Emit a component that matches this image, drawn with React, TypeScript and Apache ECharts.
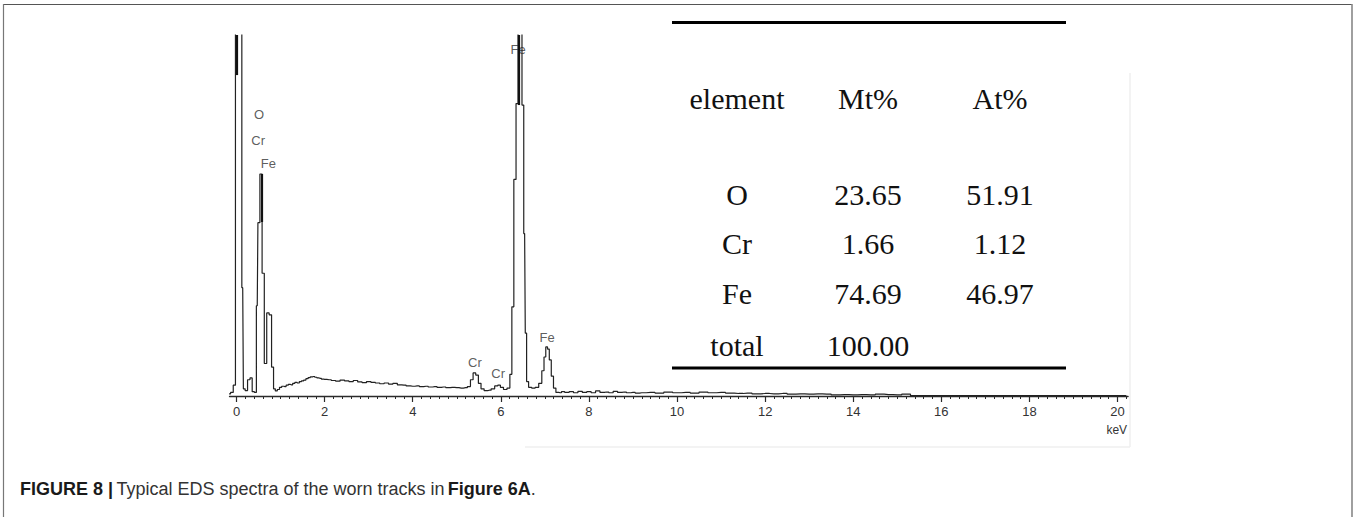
import React, { useEffect, useRef } from "react";
import * as echarts from "echarts";

// ---- Spectrum (keV, counts; arbitrary count scale, top of plot = 1000) ----
const spectrumKeV: number[] = [
  -0.17, -0.1, -0.05, 0.0, 0.06, 0.1, 0.14, 0.17, 0.22, 0.28, 0.33, 0.38, 0.43, 0.47, 0.5, 0.56, 0.6, 0.66, 0.71, 0.77,
  0.82, 0.86, 0.9, 0.95, 1.0, 1.05, 1.1, 1.15, 1.2, 1.25, 1.3, 1.35, 1.4, 1.45, 1.5, 1.55, 1.6, 1.65, 1.7, 1.75,
  1.8, 1.85, 1.9, 1.95, 2.0, 2.1, 2.2, 2.3, 2.4, 2.5, 2.6, 2.7, 2.8, 2.9, 3.0, 3.1, 3.2, 3.3, 3.4, 3.5,
  3.6, 3.7, 3.8, 3.9, 4.0, 4.1, 4.2, 4.3, 4.4, 4.5, 4.6, 4.7, 4.8, 4.9, 5.0, 5.1, 5.2, 5.28, 5.34, 5.4,
  5.46, 5.52, 5.58, 5.66, 5.74, 5.82, 5.9, 5.96, 6.02, 6.1, 6.18, 6.23, 6.27, 6.32, 6.37, 6.41, 6.46, 6.5, 6.54, 6.57,
  6.6, 6.66, 6.74, 6.82, 6.9, 6.96, 7.0, 7.04, 7.08, 7.12, 7.17, 7.22, 7.28, 7.35, 7.4, 7.5, 7.6, 7.7, 7.8, 7.9,
  8.0, 8.1, 8.2, 8.3, 8.4, 8.5, 8.6, 8.7, 8.8, 8.9, 9.0, 9.1, 9.2, 9.4, 9.6, 9.8, 10.0, 10.2, 10.4, 10.6,
  10.8, 11.0, 11.2, 11.4, 11.6, 11.8, 12.0, 12.2, 12.4, 12.6, 12.8, 13.0, 13.2, 13.4, 13.6, 13.8, 14.0, 14.2, 14.4, 14.6,
  14.8, 15.0, 15.2, 15.4, 17.0, 20.2,
];
const spectrumCounts: number[] = [
  6, 10, 30, 1600, 1600, 1600, 300, 20, 15, 45, 50, 12, 10, 250, 480, 615, 340, 90, 230, 225,
  80, 20, 14, 18, 24, 27, 26, 30, 32, 31, 35, 38, 36, 40, 42, 44, 48, 51, 53, 54,
  52, 50, 49, 47, 46, 45, 43, 41, 44, 42, 40, 43, 39, 37, 40, 38, 36, 34, 36, 33,
  35, 31, 30, 28, 27, 28, 26, 27, 25, 26, 24, 25, 23, 24, 23, 22, 23, 26, 45, 64,
  58, 35, 20, 15, 16, 20, 28, 30, 24, 18, 22, 60, 247, 600, 810, 1600, 1600, 806, 450, 174,
  40, 24, 22, 24, 35, 70, 108, 136, 130, 100, 55, 22, 10, 9, 12, 10, 12, 9, 13, 10,
  12, 9, 14, 10, 11, 9, 13, 10, 11, 9, 10, 8, 9, 10, 8, 11, 9, 10, 8, 11,
  9, 10, 8, 7, 8, 6, 7, 6, 7, 5, 6, 5, 6, 5, 3, 4, 3, 4, 3, 5,
  4, 3, 5, 1, 1, 1,
];

// Peak identification labels
const peakLabels: string[] = ["O", "Cr", "Fe", "Fe", "Cr", "Cr", "Fe"];
const peakLabelKeV: number[] = [0.51, 0.49, 0.72, 6.39, 5.41, 5.94, 7.05];
const peakLabelY: number[] = [781, 709, 645, 961, 94, 61, 163];

// Element marker lines (keV, from count, to count)
const markerKeV: number[] = [0.0, 0.57, 6.4];
const markerFrom: number[] = [1000, 615, 1000];
const markerTo: number[] = [889, 482, 806];

// Axis ticks
const majorTicks: number[] = [0, 2, 4, 6, 8, 10, 12, 14, 16, 18, 20];
const tickLabels: string[] = ["0", "2", "4", "6", "8", "10", "12", "14", "16", "18", "20"];

// Table
const tableHeader: string[] = ["element", "Mt%", "At%"];
const tableElements: string[] = ["O", "Cr", "Fe", "total"];
const tableMt: string[] = ["23.65", "1.66", "74.69", "100.00"];
const tableAt: string[] = ["51.91", "1.12", "46.97", ""];

const W = 1354;
const H = 517;

export default function App() {
  const ref = useRef<HTMLDivElement | null>(null);

  useEffect(() => {
    document.body.style.margin = "0";
    if (!ref.current) return;
    const chart = echarts.init(ref.current, undefined, { renderer: "svg", width: W, height: H });

    const minorTicks: number[] = [];
    for (let i = 0; i <= 101; i++) minorTicks.push(Math.round(i * 0.2 * 10) / 10);

    const data = spectrumKeV.map((k, i) => [k, spectrumCounts[i]]);
    const labelData = peakLabels.map((n, i) => ({ name: n, value: [peakLabelKeV[i], peakLabelY[i]] }));
    const markLines = markerKeV.map((k, i) => [
      { coord: [k, markerFrom[i]] },
      { coord: [k, markerTo[i]] },
    ]);

    const colX = [737, 868, 1000];
    const rowY = [194, 243, 293, 345];
    const serif = "'Liberation Serif', 'Times New Roman', serif";
    const tableTexts: any[] = [];
    tableHeader.forEach((t, c) =>
      tableTexts.push({
        type: "text",
        x: colX[c],
        y: 98,
        style: { text: t, fontFamily: serif, fontSize: 30, fill: "#111", align: "center", verticalAlign: "middle" },
      })
    );
    tableElements.forEach((el, r) => {
      [el, tableMt[r], tableAt[r]].forEach((t, c) => {
        if (!t) return;
        tableTexts.push({
          type: "text",
          x: colX[c],
          y: rowY[r],
          style: { text: t, fontFamily: serif, fontSize: 30, fill: "#111", align: "center", verticalAlign: "middle" },
        });
      });
    });

    const sans = "'Liberation Sans', Arial, sans-serif";

    chart.setOption({
      animation: false,
      backgroundColor: "#ffffff",
      grid: { left: 229.5, right: 225.9, top: 35, bottom: 121, containLabel: false },
      xAxis: [
        {
          type: "value",
          min: -0.16,
          max: 20.24,
          position: "bottom",
          axisLine: { show: true, onZero: false, lineStyle: { color: "#2a2a2a", width: 1.3 } },
          axisTick: { show: true, customValues: majorTicks, length: 6, lineStyle: { color: "#2a2a2a", width: 1.2 } },
          axisLabel: {
            show: true,
            customValues: majorTicks,
            formatter: (v: number) => tickLabels[majorTicks.indexOf(Math.round(v))] ?? "",
            margin: 9,
            fontSize: 13,
            color: "#333",
            fontFamily: sans,
          },
          splitLine: { show: false },
          name: "keV",
          nameLocation: "end",
          nameGap: -1,
          nameTextStyle: { fontSize: 12, color: "#333", fontFamily: sans, align: "right", verticalAlign: "top", padding: [28, 0, 0, 0] },
        },
        {
          type: "value",
          min: -0.16,
          max: 20.24,
          position: "bottom",
          offset: 0,
          axisLine: { show: false, onZero: false },
          axisTick: { show: true, customValues: minorTicks, length: 3, lineStyle: { color: "#2a2a2a", width: 1 } },
          axisLabel: { show: false },
          splitLine: { show: false },
        },
      ],
      yAxis: {
        type: "value",
        min: 0,
        max: 1000,
        show: false,
        splitLine: { show: false },
      },
      series: [
        {
          type: "line",
          name: "spectrum",
          data,
          step: "middle",
          symbol: "none",
          clip: true,
          lineStyle: { color: "#222", width: 1.2 },
          markLine: {
            silent: true,
            symbol: "none",
            label: { show: false },
            lineStyle: { color: "#111", width: 2.2, type: "solid" },
            data: markLines,
          },
        },
        {
          type: "scatter",
          name: "labels",
          data: labelData,
          symbolSize: 1,
          itemStyle: { color: "rgba(255,255,255,0)" },
          label: {
            show: true,
            position: "inside",
            formatter: (p: any) => p.name,
            fontSize: 13,
            color: "#333333",
            textBorderWidth: 0,
            textBorderColor: "transparent",
            fontFamily: sans,
          },
          silent: true,
        },
      ],
      graphic: [
        // page frame
        { type: "line", shape: { x1: 3, y1: 4.5, x2: 1352, y2: 4.5 }, style: { stroke: "#555", lineWidth: 1.2 } },
        { type: "line", shape: { x1: 3.5, y1: 4, x2: 3.5, y2: H }, style: { stroke: "#777", lineWidth: 1.2 } },
        { type: "line", shape: { x1: 1352, y1: 4, x2: 1352, y2: H }, style: { stroke: "#888", lineWidth: 1.6 } },
        // faint edge of inset table image
        { type: "line", shape: { x1: 1130, y1: 73, x2: 1130, y2: 447 }, style: { stroke: "#efefef", lineWidth: 1.5 } },
        { type: "line", shape: { x1: 525, y1: 447, x2: 1130, y2: 447 }, style: { stroke: "#efefef", lineWidth: 1.5 } },
        // table rules
        { type: "line", shape: { x1: 672, y1: 22.5, x2: 1066, y2: 22.5 }, style: { stroke: "#000", lineWidth: 3.2 } },
        { type: "line", shape: { x1: 672, y1: 368, x2: 1066, y2: 368 }, style: { stroke: "#000", lineWidth: 3.2 } },
        ...tableTexts,
        // caption
        {
          type: "text",
          x: 20,
          y: 489,
          style: {
            text: "{b|FIGURE 8 |} {n|Typical EDS spectra of the worn tracks in} {b|Figure 6A}{n|.}",
            verticalAlign: "middle",
            rich: {
              b: { fontFamily: "'Liberation Sans', Arial, sans-serif", fontWeight: "bold", fontSize: 18, fill: "#1a1a1a" },
              n: { fontFamily: "'Liberation Sans', Arial, sans-serif", fontSize: 18, fill: "#333" },
            },
          },
        },
      ],
    });

    return () => chart.dispose();
  }, []);

  return (
    <div
      ref={ref}
      style={{ position: "absolute", left: 0, top: 0, width: W, height: H, background: "#fff" }}
    />
  );
}
